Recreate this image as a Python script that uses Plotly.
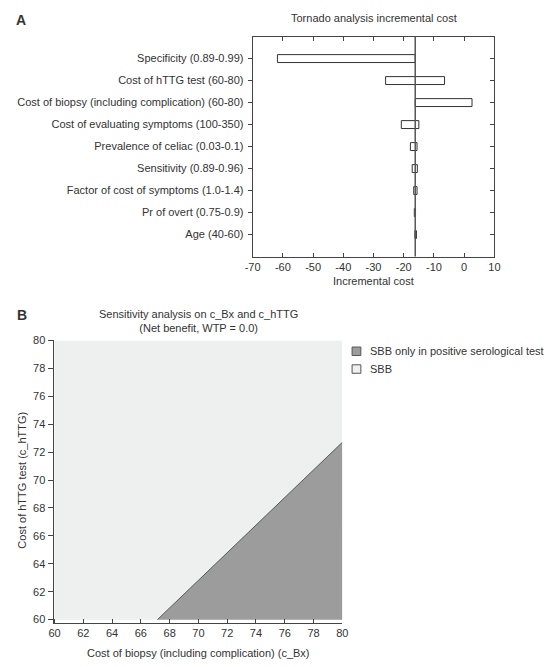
import plotly.graph_objects as go

# ---- Panel A data (tornado) ----
params = [
    "Specificity (0.89-0.99)",
    "Cost of hTTG test (60-80)",
    "Cost of biopsy (including complication) (60-80)",
    "Cost of evaluating symptoms (100-350)",
    "Prevalence of celiac (0.03-0.1)",
    "Sensitivity (0.89-0.96)",
    "Factor of cost of symptoms (1.0-1.4)",
    "Pr of overt (0.75-0.9)",
    "Age (40-60)",
]
low_vals = [-61.8, -26.0, -16.2, -20.8, -17.8, -17.2, -16.7, -16.5, -16.3]
high_vals = [-16.2, -6.5, 2.6, -15.0, -15.6, -15.5, -15.6, -16.1, -15.8]
base_value = -16.2
x_ticks_a = [-70, -60, -50, -40, -30, -20, -10, 0, 10]

# ---- Panel B data (two-way sensitivity) ----
c_bx_range = [60, 80]
c_httg_range = [60, 80]
threshold_bx = [67.15, 80]      # boundary line c_Bx
threshold_httg = [60, 72.7]     # boundary line c_hTTG
x_ticks_b = [60, 62, 64, 66, 68, 70, 72, 74, 76, 78, 80]
y_ticks_b = [60, 62, 64, 66, 68, 70, 72, 74, 76, 78, 80]
strategies = ["SBB only in positive serological test", "SBB"]
strategy_colors = ["#9c9c9c", "#eeefef"]

W, H = 554, 667
FONT = "Liberation Sans, Arial, sans-serif"
TXT = "#333333"
AX = "#444444"

fig = go.Figure()

# Tornado bars
fig.add_trace(go.Bar(
    y=params,
    x=[h - l for l, h in zip(low_vals, high_vals)],
    base=low_vals,
    orientation="h",
    width=0.36,
    marker=dict(color="white", line=dict(color="#333333", width=1)),
    showlegend=False,
    xaxis="x", yaxis="y",
    hoverinfo="skip",
))
# invisible trace to carry right-side inside ticks
fig.add_trace(go.Scatter(
    y=params, x=[base_value] * len(params), mode="markers",
    marker=dict(opacity=0), showlegend=False, xaxis="x", yaxis="y3",
    hoverinfo="skip",
))

# Panel B regions
fig.add_trace(go.Scatter(
    x=[c_bx_range[0], c_bx_range[1], c_bx_range[1], c_bx_range[0], c_bx_range[0]],
    y=[c_httg_range[0], c_httg_range[0], c_httg_range[1], c_httg_range[1], c_httg_range[0]],
    fill="toself", fillcolor=strategy_colors[1], mode="none",
    showlegend=False, xaxis="x2", yaxis="y2", hoverinfo="skip",
))
fig.add_trace(go.Scatter(
    x=[threshold_bx[0], c_bx_range[1], threshold_bx[1], threshold_bx[0]],
    y=[threshold_httg[0], c_httg_range[0], threshold_httg[1], threshold_httg[0]],
    fill="toself", fillcolor=strategy_colors[0], mode="none",
    showlegend=False, xaxis="x2", yaxis="y2", hoverinfo="skip",
))
fig.add_trace(go.Scatter(
    x=threshold_bx, y=threshold_httg, mode="lines",
    line=dict(color="#5a5a5a", width=1),
    showlegend=False, xaxis="x2", yaxis="y2", hoverinfo="skip",
))

fig.add_shape(type="line", xref="x", yref="y domain",
              x0=base_value, x1=base_value, y0=0, y1=1,
              line=dict(color="#555555", width=1.5))

# Manual legend for panel B (key boxes + labels)
legend_rows = [350, 368]
for name, col, yc in zip(strategies, strategy_colors, legend_rows):
    fig.add_shape(type="rect", xref="paper", yref="paper",
                  x0=353 / W, x1=362 / W, y0=1 - (yc + 4.3) / H, y1=1 - (yc - 4.3) / H,
                  fillcolor=col, line=dict(color="#555555", width=1))
    fig.add_annotation(text=name, x=369 / W, y=1 - yc / H, xref="paper", yref="paper",
                       xanchor="left", yanchor="middle", showarrow=False,
                       font=dict(family=FONT, size=11, color=TXT))

tick_font = dict(family=FONT, size=11, color=TXT)

fig.update_layout(
    width=W, height=H,
    margin=dict(l=0, r=0, t=0, b=0),
    paper_bgcolor="white", plot_bgcolor="white",
    font=dict(family=FONT, size=11, color=TXT),
    showlegend=False,
    xaxis=dict(
        domain=[251 / W, 499 / W], anchor="y",
        range=[-70, 10], tickvals=x_ticks_a, ticktext=[str(v) for v in x_ticks_a],
        ticks="inside", ticklen=4, tickcolor=AX,
        showline=True, linecolor=AX, linewidth=1, mirror="ticks",
        showgrid=False, zeroline=False, tickfont=tick_font,
    ),
    yaxis=dict(
        domain=[1 - 254 / H, 1 - 31 / H], anchor="x",
        type="category", categoryorder="array", categoryarray=params,
        range=[9, -1],
        ticks="outside", ticklen=4, tickcolor=AX,
        showline=True, linecolor=AX, linewidth=1, mirror=True,
        showgrid=False, zeroline=False, tickfont=tick_font,
        ticklabelstandoff=2,
    ),
    yaxis3=dict(
        overlaying="y", side="right", anchor="x",
        type="category", categoryorder="array", categoryarray=params,
        range=[9, -1], ticks="inside", ticklen=4, tickcolor=AX,
        showticklabels=False, showline=False, showgrid=False, zeroline=False,
    ),
    xaxis2=dict(
        domain=[46.7 / W, 343 / W], anchor="y2",
        range=[59.93, 80], tickvals=x_ticks_b,
        ticks="inside", ticklen=4, tickcolor=AX,
        showline=True, linecolor=AX, linewidth=1,
        showgrid=False, zeroline=False, tickfont=tick_font,
    ),
    yaxis2=dict(
        domain=[1 - 625 / H, 1 - 339 / H], anchor="x2",
        range=[59.79, 80], tickvals=y_ticks_b,
        ticks="outside", ticklen=5, tickcolor=AX,
        showline=True, linecolor=AX, linewidth=1,
        showgrid=False, zeroline=False, tickfont=tick_font,
    ),
)

ann = [
    dict(text="<b>A</b>", x=13 / W, y=1 - 14 / H, size=14),
    dict(text="<b>B</b>", x=14 / W, y=1 - 313 / H, size=14),
    dict(text="Tornado analysis incremental cost", x=375 / W, y=1 - 12.5 / H, size=11),
    dict(text="Incremental cost", x=375 / W, y=1 - 279 / H, size=11),
    dict(text="Sensitivity analysis on c_Bx and c_hTTG<br>(Net benefit, WTP = 0.0)",
         x=195 / W, y=1 - 319 / H, size=11),
    dict(text="Cost of biopsy (including complication) (c_Bx)", x=195 / W, y=1 - 656 / H, size=11),
]
for a in ann:
    fig.add_annotation(text=a["text"], x=a["x"], y=a["y"], xref="paper", yref="paper",
                       xanchor="center", yanchor="middle", showarrow=False,
                       font=dict(family=FONT, size=a["size"], color=TXT))
fig.add_annotation(text="Cost of hTTG test (c_hTTG)", x=14 / W, y=1 - 480.5 / H,
                   xref="paper", yref="paper", xanchor="center", yanchor="middle",
                   textangle=-90, showarrow=False,
                   font=dict(family=FONT, size=11, color=TXT))

fig.write_html(
    "out.html",
    config={"displayModeBar": False},
    post_script="document.body.style.margin='0';document.body.style.overflow='hidden';",
)
